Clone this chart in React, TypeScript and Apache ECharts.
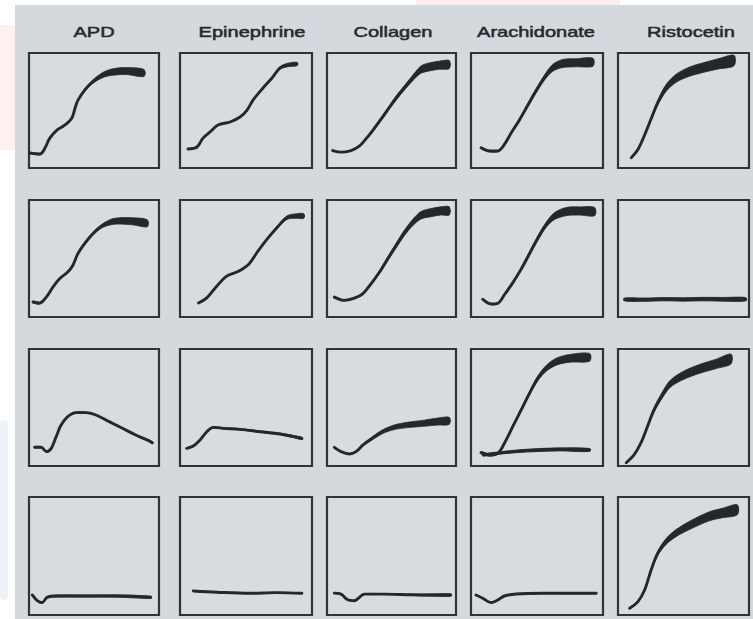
import React, { useEffect, useRef } from "react";
import * as echarts from "echarts";

// Column headings (agonists)
const agonists = ["APD", "Epinephrine", "Collagen", "Arachidonate", "Ristocetin"];

// Each trace point: [time (% of panel), aggregation (% of panel), oscillation half-amplitude]
// Row 1
const apdRow1 = [[0.8,13,0.4],[8.5,12.2,0.6],[12.3,17.4,0.6],[16,26,0.6],[21.5,33,0.6],[27.7,37.4,0.6],[33,43.5,0.6],[35.4,52,0.8],[37.7,59,0.8],[43,68,1],[49,75,1.5],[57,81,2.2],[64.6,83.5,2.8],[75,84.3,3],[88.5,82.6,3]];
const epiRow1 = [[6,16.5,0.2],[12.9,18.3,0.3],[17.4,26,0.3],[22.7,31.3,0.3],[28.8,37.4,0.3],[37.9,40,0.3],[45.5,44.3,0.4],[50.8,50.4,0.4],[55.3,59,0.5],[62.9,69.6,0.6],[69.7,78.3,0.8],[75.8,87,1.2],[81.8,89.6,1.5],[88.6,90.4,1.5]];
const colRow1 = [[4.4,15.2,0.3],[10.9,13.8,0.3],[18.6,15.2,0.3],[25,19,0.5],[30.2,25.3,0.8],[35.4,32.5,1],[41.9,42.5,1.3],[48.3,52.6,1.5],[54.8,62.6,1.8],[61.2,71.3,2],[67.7,79.9,2.5],[72.9,85.6,3.2],[79.3,87.9,3.5],[87.1,89.4,3.5],[94.8,89.9,3.5]];
const araRow1 = [[7.6,17.6,0.5],[13.9,14.8,0.6],[20.3,14.8,0.6],[25.3,20.5,0.8],[30.4,30.4,1],[36.7,41.8,1.2],[43,54.5,1.5],[49.4,67.3,1.8],[55.7,78.7,2.2],[62,87.2,3],[69.6,90.9,3.5],[79.7,91.5,3.5],[92.4,92,3.5]];
const risRow1 = [[10.1,9,0.3],[15.2,16.1,0.6],[20.3,28.7,1],[25.3,42.8,1.5],[30.4,56.9,2],[36.7,69.6,3],[44.3,78,3.5],[54.4,83.7,4],[67.1,87.9,4.2],[77.2,90.7,4.5],[88.6,93.5,4.5]];
// Row 2
const apdRow2 = [[3.1,12.8,0.8],[8.2,11.9,0.8],[13.3,17,0.6],[18.4,25.6,0.6],[23.5,32.7,0.6],[29.8,38.4,0.6],[33.7,44,0.6],[37.5,53.9,0.8],[42.6,62.5,1],[49,71,1.2],[56.6,78.1,1.6],[65.6,81.8,2.5],[79.6,81.8,3],[91,80.1,3]];
const epiRow2 = [[14,12,0.3],[20.3,16.3,0.4],[27.8,26.3,0.4],[35.4,34.9,0.4],[44.3,39.1,0.5],[51.9,44.9,0.5],[58.2,54.9,0.5],[65.8,66.3,0.6],[73.4,76.3,0.8],[81,84.9,1.5],[88.6,86.3,2],[93.7,86.3,2]];
const colRow2 = [[5.7,17,0.3],[13.4,14.2,0.3],[21.2,16.1,0.4],[27.6,19.8,0.6],[34.1,28.3,1],[40.6,38.2,1.3],[47,49.6,1.6],[53.5,60.9,2],[59.9,71.7,2.3],[66.4,80.7,2.7],[72.9,87,3.2],[80.6,89.2,3.5],[88.4,90.7,3.5],[94.8,90.7,3.5]];
const araRow2 = [[8.9,15.2,0.5],[15.2,11.1,0.6],[20.3,11.7,0.6],[25.3,19,0.8],[31.6,29.2,1],[38,40.9,1.2],[44.3,54.1,1.5],[50.6,67.3,1.8],[57,78.9,2.2],[63.3,86.3,3],[72.2,90.1,3.5],[82.3,90.6,3.5],[93.7,90.1,3.5]];
const risRow2 = [[5,15,1.3],[20,14.8,1.4],[35,15.2,1.4],[50,15,1.5],[65,15.3,1.5],[80,15.1,1.6],[97.5,15.2,1.5]];
// Row 3
const apdRow3 = [[4.3,16,0.5],[9.4,16,0.5],[13.3,12.3,0.5],[17.1,15.1,0.5],[20.9,25.1,0.5],[24.7,35,0.5],[29.8,42.2,0.5],[36.2,45.6,0.5],[43.9,45.6,0.5],[51.5,43.6,0.5],[61.7,37.9,0.5],[71.9,32.2,0.6],[82.1,26.5,0.6],[91,22.2,0.8],[94.9,19.9,0.8]];
const epiRow3 = [[5.1,15.1,0.4],[10.1,17.1,0.4],[15.2,22.2,0.4],[20.3,29.3,0.4],[25.3,33,0.5],[32.9,32.2,0.5],[45.6,31.3,0.5],[60.8,29.3,0.6],[75.9,27.4,0.7],[86.1,25.1,0.9],[92.4,23.6,1]];
const colRow3 = [[5.7,16,0.3],[10.9,12.3,0.3],[17.3,10.3,0.3],[22.5,12.3,0.4],[27.9,18,0.8],[34.1,22.9,1.2],[43.2,29.4,1.6],[52.2,33.1,2],[62.5,35.1,2.3],[75.5,36.6,2.6],[85.8,38,3],[94.8,38.6,3]];
const araRow3 = [[7.6,11.4,1],[13.9,9.4,1],[20.3,10.8,0.8],[25.3,19.4,0.8],[31.6,33.6,1],[38,47.9,1.2],[44.3,62.1,1.5],[50.6,74.9,2],[57,83.5,2.5],[64.6,89.2,3],[74.7,92,3.3],[89.9,92.9,3.3]];
const araRow3Flat = [[9.4,9.4,0.8],[24,11.4,1],[42,13.1,1.2],[67,14.2,1.3],[89.9,13.7,1.3]];
const risRow3 = [[6.3,2.8,0.3],[12.5,9.9,0.5],[17.5,19.7,0.8],[22.5,33.8,1.2],[27.5,47.9,1.8],[33.8,60.6,2.5],[40,70.4,3],[50,77.5,3.5],[62.5,83.1,3.8],[75,87.3,4],[86.3,91.5,4.2]];
// Row 4
const apdRow4 = [[2.5,17,0.6],[6.3,12.2,0.6],[10.1,10.5,0.6],[13.9,15,0.7],[21.5,16.1,0.8],[41.8,16.1,0.8],[67.1,16.1,0.9],[93.7,15,0.9]];
const epiRow4 = [[10.1,20.4,0.3],[28,19.3,0.3],[53,18.4,0.3],[73,19,0.3],[92.4,18.4,0.3]];
const colRow4 = [[5.7,18.5,0.3],[10.9,17.7,0.3],[16,12.9,0.3],[21.2,12.1,0.3],[25,14.9,0.3],[29,17.7,0.3],[44.4,17.7,0.3],[65.1,17.1,0.5],[80.6,16.9,0.9],[96,16.9,1]];
const araRow4 = [[3.8,17,0.4],[8.9,14.2,0.4],[15.2,10.5,0.4],[20.3,12.7,0.4],[25.3,16.1,0.4],[34.2,17.8,0.4],[54.4,18.4,0.4],[74.7,18.4,0.4],[94.9,18.4,0.4]];
const risRow4 = [[8.9,5.7,0.3],[15.2,11.3,0.5],[20.3,21.2,0.8],[25.3,38.2,1.2],[30.4,52.4,1.8],[36.7,62.3,2.5],[44.3,69.4,3],[55.7,76.5,3.5],[69.6,83.6,3.8],[79.7,86.4,4],[91.1,89.2,4.2]];

const panels: number[][][][] = [
  [apdRow1], [epiRow1], [colRow1], [araRow1], [risRow1],
  [apdRow2], [epiRow2], [colRow2], [araRow2], [risRow2],
  [apdRow3], [epiRow3], [colRow3], [araRow3, araRow3Flat], [risRow3],
  [apdRow4], [epiRow4], [colRow4], [araRow4], [risRow4],
];

// Layout
const COL_LEFT = [29, 180, 327, 471, 618];
const COL_W = [130, 132, 129, 132, 131];
const ROW_TOP = [53, 200, 349, 497];
const ROW_H = [115, 117, 117, 118];
const TITLE_X = [94, 252, 393, 536, 691];
const TITLE_Y = 32;

const INK = "#25282a";
const FRAME = "#303437";
const PAPER = "#d3d9dd";
const PANEL_BG = "#d7dce0";

function buildOption() {
  const grid: any[] = [];
  const xAxis: any[] = [];
  const yAxis: any[] = [];
  const series: any[] = [];

  panels.forEach((traces, p) => {
    const r = Math.floor(p / 5);
    const c = p % 5;
    grid.push({
      left: COL_LEFT[c], top: ROW_TOP[r], width: COL_W[c], height: ROW_H[r],
      show: true, backgroundColor: PANEL_BG, borderColor: FRAME, borderWidth: 2.2,
    });
    xAxis.push({ type: "value", gridIndex: p, min: 0, max: 100, show: false });
    yAxis.push({ type: "value", gridIndex: p, min: 0, max: 100, show: false });
    traces.forEach((trace) => {
      series.push({
        type: "custom",
        xAxisIndex: p, yAxisIndex: p,
        silent: true, clip: false, z: 3,
        data: [[trace[0][0], trace[0][1]]],
        renderItem: (_params: any, api: any) => {
          const upper = trace.map((d) => api.coord([d[0], d[1] + d[2]]));
          const lower = trace.map((d) => api.coord([d[0], d[1] - d[2]])).reverse();
          return {
            type: "polygon",
            shape: { points: upper.concat(lower), smooth: 0.3 },
            style: { fill: INK, stroke: INK, lineWidth: 0.8 },
          };
        },
      });
      series.push({
        type: "line",
        xAxisIndex: p, yAxisIndex: p,
        silent: true, clip: false, z: 4,
        data: trace.map((d) => [d[0], d[1]]),
        smooth: 0.35, symbol: "none",
        lineStyle: { color: INK, width: 2.9, cap: "round", join: "round" },
      });
    });
  });

  const graphic: any[] = [
    { type: "rect", z: -10, silent: true, shape: { x: 15, y: 5, width: 738, height: 614 }, style: { fill: PAPER } },
    { type: "rect", z: -10, silent: true, shape: { x: 0, y: 25, width: 15, height: 125 }, style: { fill: "#fdf0ef" } },
    { type: "rect", z: -10, silent: true, shape: { x: 416, y: 0, width: 204, height: 5 }, style: { fill: "#fdeeee" } },
    { type: "rect", z: -10, silent: true, shape: { x: 0, y: 420, width: 8, height: 180, r: 6 }, style: { fill: "#eef2f8" } },
  ];
  agonists.forEach((name, i) => {
    graphic.push({
      type: "text", z: 10, silent: true,
      x: TITLE_X[i], y: TITLE_Y, scaleX: 1.38,
      style: {
        text: name, fill: "#26292b", stroke: "#26292b", lineWidth: 0.5,
        fontSize: 14.5, fontFamily: "'Liberation Sans', Arial, sans-serif",
        textAlign: "center", textVerticalAlign: "middle",
        align: "center", verticalAlign: "middle",
      },
    });
  });

  return {
    animation: false,
    backgroundColor: "#ffffff",
    grid, xAxis, yAxis, series, graphic,
  };
}

export default function App() {
  const ref = useRef<HTMLDivElement>(null);
  useEffect(() => {
    if (!ref.current) return;
    const chart = echarts.init(ref.current, undefined, { renderer: "svg" });
    chart.setOption(buildOption() as any);
    return () => chart.dispose();
  }, []);
  return (
    <div
      ref={ref}
      style={{ position: "fixed", left: 0, top: 0, width: 753, height: 619 }}
    />
  );
}
